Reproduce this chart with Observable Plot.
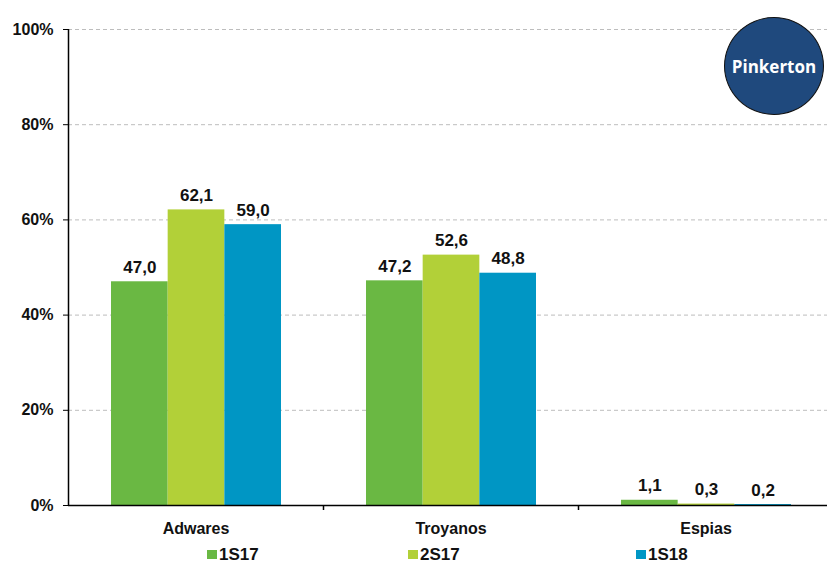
<!DOCTYPE html>
<html>
<head>
<meta charset="utf-8">
<script src="https://cdn.jsdelivr.net/npm/d3@7"></script>
<script src="https://cdn.jsdelivr.net/npm/@observablehq/plot@0.6"></script>
<style>
  html, body { margin: 0; padding: 0; background: #fff; }
  #wrap { position: relative; width: 827px; height: 563px; font-family: "Liberation Sans", Arial, sans-serif; }
  #legend { position: relative; height: 23px; }
  .item { position: absolute; top: 6px; font-weight: bold; font-size: 17px; line-height: 17px; color: #111; display: flex; align-items: center; }
  .sw { width: 10px; height: 9px; margin-right: 2px; display: inline-block; }
  #logo { position: absolute; left: 724px; top: 17px; width: 100px; height: 98px; border-radius: 50%; background: #1f497d; border: 1px solid #111; box-sizing: border-box; display: flex; align-items: center; justify-content: center; color: #fff; font-family: "Open Sans", sans-serif; font-weight: bold; font-size: 17px; }
</style>
</head>
<body>
<div id="wrap"></div>
<script>
const categories = ["Adwares", "Troyanos", "Espias"];
const series = ["1S17", "2S17", "1S18"];
const colors = ["#6ab843", "#b2d038", "#0096c4"];
const values1S17 = [47.0, 47.2, 1.1];
const values2S17 = [62.1, 52.6, 0.3];
const values1S18 = [59.0, 48.8, 0.2];
const yTicks = [0, 20, 40, 60, 80, 100];

const allValues = [values1S17, values2S17, values1S18];
const data = [];
series.forEach((s, i) => categories.forEach((c, j) => data.push({cat: c, series: s, value: allValues[i][j]})));

const bandStep = 255;
const groupOffset = 43;
const barW = 170 / 3;
const fmt = v => v.toFixed(1).replace(".", ",");

const marks = [
  Plot.ruleY(yTicks.filter(d => d > 0), {stroke: "#bdbdbd", strokeDasharray: "4,3", strokeWidth: 1}),
];
series.forEach((s, i) => {
  const sub = data.filter(d => d.series === s);
  const left = groupOffset + i * barW;
  marks.push(Plot.barY(sub, {x: "cat", y: "value", fill: colors[i], insetLeft: left, insetRight: bandStep - left - barW}));
  marks.push(Plot.text(sub, {x: "cat", y: "value", text: d => fmt(d.value), dx: left + barW / 2 - bandStep / 2, dy: -9, lineAnchor: "bottom", fontSize: 17, fontWeight: "bold", fill: "#111"}));
});
marks.push(
  Plot.ruleY([0], {stroke: "#000", strokeWidth: 1.5}),
  Plot.ruleX([0], {x: () => categories[0], dx: -bandStep / 2, stroke: "#000", strokeWidth: 1.5}),
  Plot.ruleX(categories.slice(0, 2), {x: d => d, dx: bandStep / 2, y1: 0, y2: 0, insetBottom: -5, stroke: "#000", strokeWidth: 1.5}),
  Plot.axisY({ticks: yTicks, tickFormat: d => d + "%", tickSize: 5, tickPadding: 10, fontSize: 16, fontWeight: "bold", stroke: "#000", color: "#111"}),
  Plot.axisX({tickSize: 0, tickPadding: 17, fontSize: 16, fontWeight: "bold", color: "#111"})
);

const chart = Plot.plot({
  width: 827,
  height: 540,
  marginTop: 29,
  marginBottom: 35,
  marginLeft: 68,
  marginRight: 0,
  style: {fontFamily: "'Liberation Sans', Arial, sans-serif", background: "#fff", overflow: "visible"},
  x: {domain: categories, range: [68, 68 + bandStep * 3], padding: 0, label: null},
  y: {domain: [0, 100], label: null},
  marks
});

const wrap = document.getElementById("wrap");
wrap.appendChild(chart);
const legend = document.createElement("div");
legend.id = "legend";
const lx = [207, 408, 636];
series.forEach((s, i) => {
  const it = document.createElement("div");
  it.className = "item";
  it.style.left = lx[i] + "px";
  it.innerHTML = `<span class="sw" style="background:${colors[i]}"></span><span>${s}</span>`;
  legend.appendChild(it);
});
wrap.appendChild(legend);
const logo = document.createElement("div");
logo.id = "logo";
logo.textContent = "Pinkerton";
wrap.appendChild(logo);
</script>
</body>
</html>
